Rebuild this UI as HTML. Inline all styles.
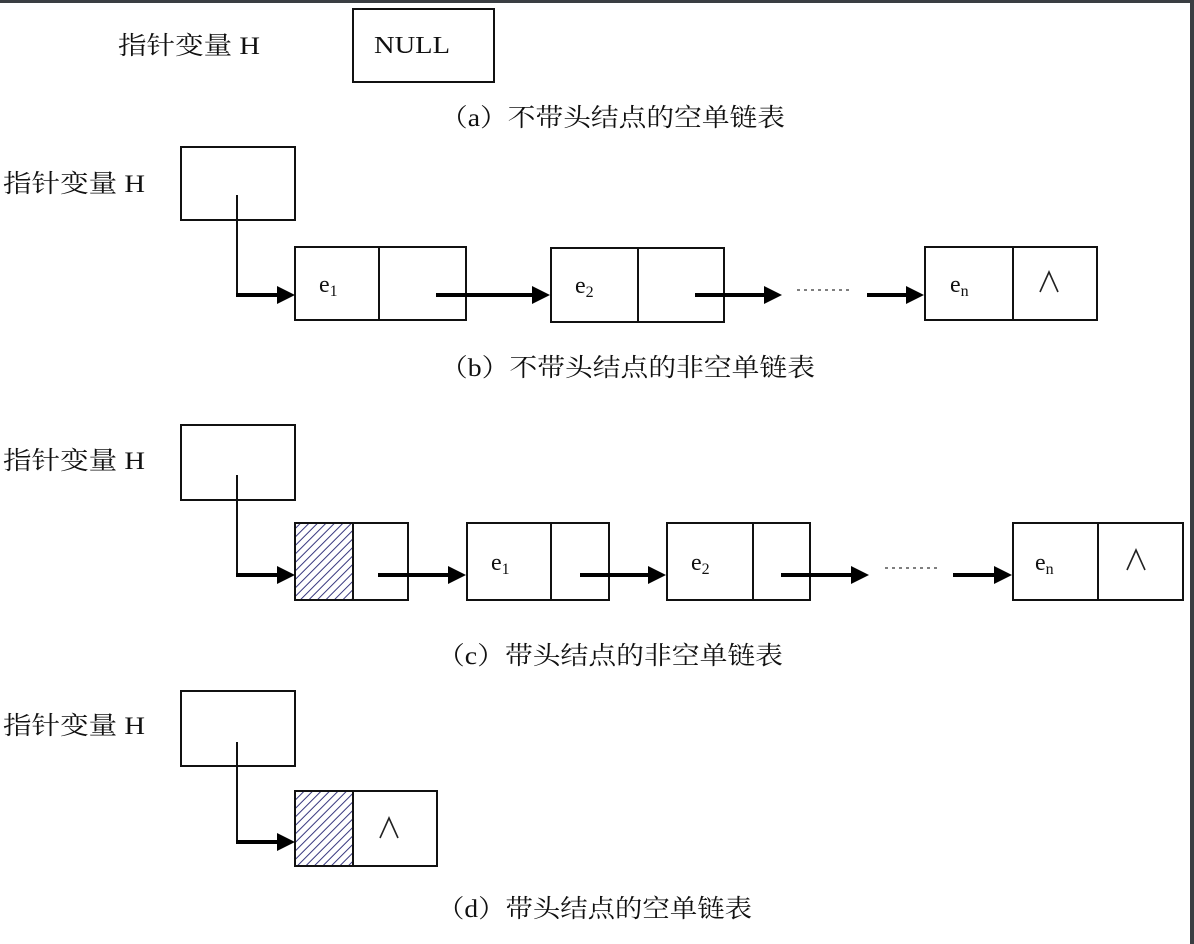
<!DOCTYPE html>
<html><head><meta charset="utf-8"><style>
html,body{margin:0;padding:0;background:#fff;}
svg{display:block;}
text{font-family:"Liberation Serif","Noto Serif CJK SC","Noto Sans CJK SC",serif;fill:#111;}
.cj{font-family:"Liberation Serif","Noto Sans CJK SC",sans-serif;}
</style></head><body>
<svg width="1194" height="944" viewBox="0 0 1194 944" xmlns="http://www.w3.org/2000/svg">
<defs>
<pattern id="h" width="6" height="6" patternUnits="userSpaceOnUse" patternTransform="rotate(45)">
<rect width="6" height="6" fill="#fff"/><line x1="0" y1="0" x2="0" y2="6" stroke="#3a3a80" stroke-width="2"/>
</pattern>
</defs>
<rect x="0" y="0" width="1194" height="3" fill="#3a3e42"/>
<rect x="1190" y="0" width="4" height="944" fill="#3a3e42"/>
<g fill="none" stroke="#111" stroke-width="2">
<rect x="353" y="9" width="141" height="73"/>
<rect x="181" y="147" width="114" height="73"/>
<rect x="295" y="247" width="171" height="73"/><line x1="379" y1="247" x2="379" y2="320"/>
<rect x="551" y="248" width="173" height="74"/><line x1="638" y1="248" x2="638" y2="322"/>
<rect x="925" y="247" width="172" height="73"/><line x1="1013" y1="247" x2="1013" y2="320"/>
<polyline points="237,195 237,295"/>
<rect x="181" y="425" width="114" height="75"/>
<rect x="295" y="523" width="58" height="77" fill="url(#h)"/>
<rect x="295" y="523" width="113" height="77"/>
<rect x="467" y="523" width="142" height="77"/><line x1="551" y1="523" x2="551" y2="600"/>
<rect x="667" y="523" width="143" height="77"/><line x1="753" y1="523" x2="753" y2="600"/>
<rect x="1013" y="523" width="170" height="77"/><line x1="1098" y1="523" x2="1098" y2="600"/>
<polyline points="237,475 237,575"/>
<rect x="181" y="691" width="114" height="75"/>
<rect x="295" y="791" width="58" height="75" fill="url(#h)"/>
<rect x="295" y="791" width="142" height="75"/>
<polyline points="237,742 237,842"/>
</g>
<g stroke="#000" stroke-width="4" fill="none">
<line x1="236" y1="295" x2="280" y2="295"/>
<line x1="436" y1="295" x2="535" y2="295"/>
<line x1="695" y1="295" x2="766" y2="295"/>
<line x1="867" y1="295" x2="909" y2="295"/>
<line x1="236" y1="575" x2="280" y2="575"/>
<line x1="378" y1="575" x2="451" y2="575"/>
<line x1="580" y1="575" x2="651" y2="575"/>
<line x1="781" y1="575" x2="853" y2="575"/>
<line x1="953" y1="575" x2="997" y2="575"/>
<line x1="236" y1="842" x2="280" y2="842"/>
</g>
<g fill="#000">
<polygon points="295,295 277,286 277,304"/>
<polygon points="550,295 532,286 532,304"/>
<polygon points="782,295 764,286 764,304"/>
<polygon points="924,295 906,286 906,304"/>
<polygon points="295,575 277,566 277,584"/>
<polygon points="466,575 448,566 448,584"/>
<polygon points="666,575 648,566 648,584"/>
<polygon points="869,575 851,566 851,584"/>
<polygon points="1012,575 994,566 994,584"/>
<polygon points="295,842 277,833 277,851"/>
</g>
<g stroke="#333" stroke-width="1.3" stroke-dasharray="3,4">
<line x1="797" y1="290" x2="853" y2="290"/>
<line x1="885" y1="568" x2="939" y2="568"/>
</g>
<g font-size="25" class="cj" lengthAdjust="spacingAndGlyphs">
<text x="118" y="54" textLength="142" lengthAdjust="spacingAndGlyphs">指针变量 H</text>
<text x="3" y="192" textLength="142" lengthAdjust="spacingAndGlyphs">指针变量 H</text>
<text x="3" y="469" textLength="142" lengthAdjust="spacingAndGlyphs">指针变量 H</text>
<text x="3" y="734" textLength="142" lengthAdjust="spacingAndGlyphs">指针变量 H</text>
<text x="440" y="126" textLength="345" lengthAdjust="spacingAndGlyphs">（a）不带头结点的空单链表</text>
<text x="440" y="376" textLength="375" lengthAdjust="spacingAndGlyphs">（b）不带头结点的非空单链表</text>
<text x="437" y="664" textLength="346" lengthAdjust="spacingAndGlyphs">（c）带头结点的非空单链表</text>
<text x="437" y="917" textLength="315" lengthAdjust="spacingAndGlyphs">（d）带头结点的空单链表</text>
</g>
<g font-size="24">
<text x="374" y="53" textLength="76" lengthAdjust="spacingAndGlyphs">NULL</text>
<text x="319" y="292">e<tspan font-size="16" dy="4">1</tspan></text>
<text x="575" y="293">e<tspan font-size="16" dy="4">2</tspan></text>
<text x="950" y="292">e<tspan font-size="16" dy="4">n</tspan></text>
<text x="491" y="570">e<tspan font-size="16" dy="4">1</tspan></text>
<text x="691" y="570">e<tspan font-size="16" dy="4">2</tspan></text>
<text x="1035" y="570">e<tspan font-size="16" dy="4">n</tspan></text>
</g>
<g stroke="#222" stroke-width="1.6" fill="none">
<polyline points="1040,292 1049,272 1058,292"/>
<polyline points="1127,570 1136,550 1145,570"/>
<polyline points="380,838 389,818 398,838"/>
</g>
</svg>
</body></html>
